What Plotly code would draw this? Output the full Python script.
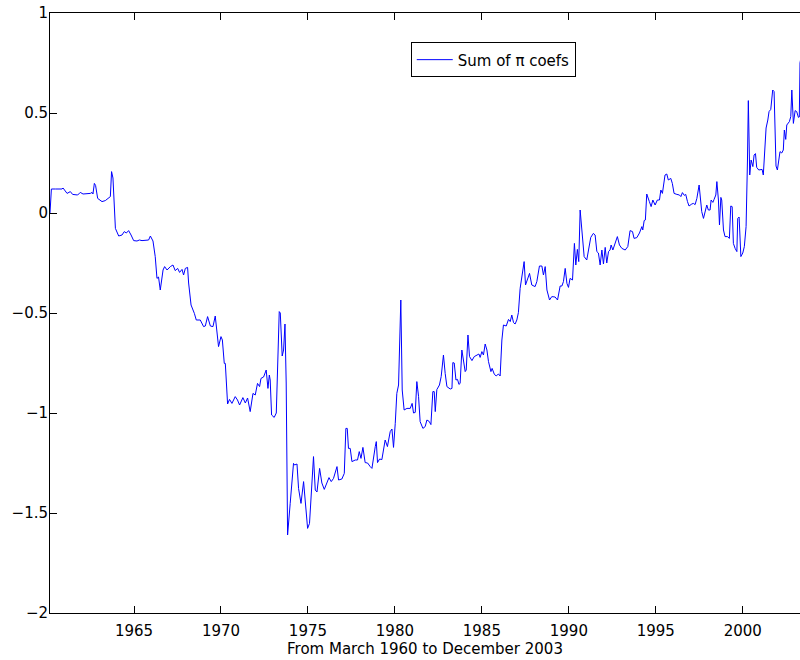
import plotly.graph_objects as go

# Time (decimal years) and sum of pi coefficients
years = [
    1960.17, 1960.25, 1960.48, 1960.86, 1960.92, 1961.15, 1961.34, 1961.47, 1961.76, 1961.91,
    1962.07, 1962.30, 1962.49, 1962.59, 1962.64, 1962.72, 1962.79, 1962.91, 1963.16, 1963.35,
    1963.64, 1963.71, 1963.79, 1963.93, 1964.12, 1964.31, 1964.44, 1964.56, 1964.69, 1964.83,
    1964.98, 1965.17, 1965.31, 1965.46, 1965.65, 1965.84, 1965.94, 1966.09, 1966.22, 1966.32,
    1966.41, 1966.51, 1966.67, 1966.76, 1966.90, 1967.09, 1967.24, 1967.37, 1967.51, 1967.62,
    1967.76, 1967.85, 1967.95, 1968.08, 1968.14, 1968.28, 1968.47, 1968.58, 1968.81, 1969.00,
    1969.10, 1969.23, 1969.39, 1969.54, 1969.67, 1969.86, 1970.00, 1970.08, 1970.19, 1970.25,
    1970.38, 1970.49, 1970.63, 1970.82, 1970.95, 1971.07, 1971.26, 1971.40, 1971.53, 1971.68,
    1971.84, 1971.97, 1972.10, 1972.22, 1972.30, 1972.45, 1972.60, 1972.70, 1972.78, 1972.83,
    1972.91, 1973.06, 1973.18, 1973.35, 1973.41, 1973.52, 1973.60, 1973.68, 1973.75, 1973.83,
    1973.98, 1974.17, 1974.23, 1974.37, 1974.46, 1974.60, 1974.75, 1974.84, 1974.98, 1975.09,
    1975.23, 1975.32, 1975.42, 1975.52, 1975.67, 1975.80, 1975.94, 1976.09, 1976.21, 1976.34,
    1976.47, 1976.67, 1976.76, 1976.95, 1977.09, 1977.18, 1977.26, 1977.33, 1977.43, 1977.53,
    1977.72, 1977.85, 1977.95, 1978.05, 1978.16, 1978.29, 1978.43, 1978.58, 1978.68, 1978.87,
    1978.93, 1979.00, 1979.12, 1979.25, 1979.44, 1979.57, 1979.73, 1979.83, 1979.92, 1980.02,
    1980.11, 1980.21, 1980.34, 1980.42, 1980.53, 1980.69, 1980.88, 1980.99, 1981.07, 1981.17,
    1981.26, 1981.36, 1981.45, 1981.61, 1981.74, 1981.84, 1981.97, 1982.07, 1982.18, 1982.26,
    1982.32, 1982.41, 1982.56, 1982.66, 1982.79, 1982.89, 1982.99, 1983.18, 1983.28, 1983.33,
    1983.41, 1983.51, 1983.60, 1983.68, 1983.75, 1983.85, 1983.94, 1984.04, 1984.10, 1984.20,
    1984.29, 1984.43, 1984.56, 1984.71, 1984.83, 1984.90, 1985.00, 1985.09, 1985.19, 1985.29,
    1985.38, 1985.52, 1985.59, 1985.71, 1985.82, 1985.95, 1986.05, 1986.15, 1986.24, 1986.40,
    1986.53, 1986.63, 1986.72, 1986.82, 1986.91, 1987.01, 1987.10, 1987.20, 1987.30, 1987.36,
    1987.43, 1987.51, 1987.59, 1987.74, 1987.87, 1988.06, 1988.16, 1988.31, 1988.45, 1988.54,
    1988.64, 1988.74, 1988.89, 1989.02, 1989.21, 1989.35, 1989.50, 1989.60, 1989.69, 1989.79,
    1989.89, 1989.98, 1990.07, 1990.21, 1990.32, 1990.40, 1990.49, 1990.57, 1990.65, 1990.75,
    1990.88, 1991.03, 1991.13, 1991.26, 1991.41, 1991.51, 1991.61, 1991.70, 1991.80, 1991.90,
    1991.99, 1992.09, 1992.18, 1992.28, 1992.37, 1992.43, 1992.53, 1992.66, 1992.79, 1992.91,
    1993.05, 1993.24, 1993.39, 1993.52, 1993.66, 1993.75, 1993.91, 1994.06, 1994.20, 1994.25,
    1994.33, 1994.40, 1994.48, 1994.63, 1994.73, 1994.83, 1994.96, 1995.09, 1995.21, 1995.29,
    1995.38, 1995.53, 1995.63, 1995.72, 1995.86, 1995.95, 1996.05, 1996.21, 1996.36, 1996.44,
    1996.53, 1996.64, 1996.72, 1996.82, 1996.91, 1997.07, 1997.16, 1997.26, 1997.36, 1997.49,
    1997.55, 1997.64, 1997.74, 1997.85, 1997.93, 1998.02, 1998.12, 1998.18, 1998.28, 1998.35,
    1998.45, 1998.51, 1998.60, 1998.66, 1998.74, 1998.79, 1998.89, 1998.98, 1999.12, 1999.23,
    1999.31, 1999.39, 1999.46, 1999.56, 1999.66, 1999.71, 1999.79, 1999.89, 2000.00, 2000.09,
    2000.19, 2000.27, 2000.32, 2000.40, 2000.48, 2000.58, 2000.65, 2000.73, 2000.80, 2000.92,
    2001.03, 2001.11, 2001.18, 2001.28, 2001.34, 2001.44, 2001.51, 2001.61, 2001.72, 2001.80,
    2001.86, 2001.91, 2001.99, 2002.09, 2002.14, 2002.24, 2002.33, 2002.39, 2002.47, 2002.53,
    2002.62, 2002.68, 2002.76, 2002.82, 2002.91, 2003.01, 2003.10, 2003.20, 2003.25, 2003.29,
    2003.35,
]

pi_sum = [
    0.000, 0.120, 0.120, 0.120, 0.125, 0.098, 0.107, 0.093, 0.090, 0.103,
    0.095, 0.097, 0.098, 0.103, 0.095, 0.148, 0.138, 0.073, 0.057, 0.062,
    0.082, 0.207, 0.175, -0.077, -0.115, -0.110, -0.093, -0.100, -0.088, -0.110,
    -0.138, -0.140, -0.135, -0.138, -0.135, -0.135, -0.115, -0.140, -0.218, -0.327,
    -0.320, -0.385, -0.285, -0.268, -0.285, -0.268, -0.260, -0.288, -0.277, -0.297,
    -0.282, -0.310, -0.277, -0.272, -0.350, -0.460, -0.502, -0.535, -0.535, -0.568,
    -0.565, -0.518, -0.565, -0.568, -0.515, -0.668, -0.618, -0.635, -0.752, -0.752,
    -0.955, -0.932, -0.952, -0.918, -0.935, -0.960, -0.923, -0.950, -0.925, -0.993,
    -0.902, -0.910, -0.852, -0.868, -0.827, -0.820, -0.785, -0.877, -0.810, -0.835,
    -1.010, -1.022, -1.000, -0.493, -0.500, -0.715, -0.685, -0.555, -0.850, -1.610,
    -1.452, -1.252, -1.260, -1.255, -1.377, -1.452, -1.343, -1.450, -1.577, -1.552,
    -1.318, -1.218, -1.385, -1.395, -1.277, -1.350, -1.382, -1.350, -1.323, -1.343,
    -1.327, -1.268, -1.335, -1.330, -1.302, -1.077, -1.077, -1.177, -1.177, -1.243,
    -1.235, -1.235, -1.193, -1.227, -1.172, -1.248, -1.250, -1.268, -1.277, -1.168,
    -1.143, -1.248, -1.230, -1.233, -1.135, -1.168, -1.093, -1.080, -1.172, -1.052,
    -0.902, -0.860, -0.435, -0.885, -0.985, -0.977, -0.977, -0.952, -1.000, -0.997,
    -0.843, -0.917, -1.043, -1.077, -1.068, -1.035, -1.042, -1.058, -0.893, -0.893,
    -0.993, -0.883, -0.860, -0.818, -0.710, -0.802, -0.868, -0.880, -0.877, -0.748,
    -0.750, -0.835, -0.832, -0.857, -0.852, -0.685, -0.735, -0.793, -0.785, -0.610,
    -0.718, -0.738, -0.718, -0.713, -0.705, -0.722, -0.693, -0.710, -0.655, -0.685,
    -0.743, -0.793, -0.777, -0.805, -0.815, -0.805, -0.815, -0.635, -0.560, -0.565,
    -0.532, -0.543, -0.510, -0.548, -0.555, -0.535, -0.498, -0.377, -0.310, -0.293,
    -0.243, -0.360, -0.343, -0.302, -0.360, -0.368, -0.343, -0.265, -0.265, -0.310,
    -0.268, -0.385, -0.435, -0.418, -0.420, -0.435, -0.365, -0.365, -0.343, -0.277,
    -0.352, -0.372, -0.327, -0.335, -0.152, -0.260, -0.182, -0.243, 0.015, -0.102,
    -0.218, -0.235, -0.185, -0.122, -0.102, -0.110, -0.193, -0.200, -0.260, -0.185,
    -0.255, -0.172, -0.250, -0.193, -0.185, -0.160, -0.185, -0.148, -0.118, -0.160,
    -0.177, -0.185, -0.168, -0.088, -0.093, -0.127, -0.123, -0.100, -0.068, -0.085,
    -0.038, -0.035, 0.095, 0.057, 0.032, 0.065, 0.040, 0.065, 0.065, 0.115,
    0.098, 0.190, 0.195, 0.165, 0.173, 0.148, 0.098, 0.093, 0.090, 0.082,
    0.102, 0.088, 0.093, 0.057, 0.035, 0.045, 0.048, 0.042, 0.073, 0.140,
    0.080, 0.007, -0.027, 0.023, 0.040, 0.015, 0.015, 0.065, 0.053, 0.068,
    0.090, 0.157, 0.065, -0.060, 0.078, 0.065, -0.085, -0.118, -0.118, -0.127,
    0.035, 0.032, -0.152, -0.177, -0.193, -0.027, -0.020, -0.218, -0.200, -0.168,
    -0.068, 0.265, 0.562, 0.190, 0.265, 0.232, 0.290, 0.297, 0.228, 0.215,
    0.215, 0.218, 0.190, 0.365, 0.425, 0.465, 0.507, 0.518, 0.615, 0.607,
    0.432, 0.235, 0.215, 0.290, 0.307, 0.300, 0.315, 0.415, 0.368, 0.440,
    0.448, 0.457, 0.482, 0.615, 0.448, 0.512, 0.507, 0.478, 0.480, 0.750,
    0.780,
]

x_ticks = [1965, 1970, 1975, 1980, 1985, 1990, 1995, 2000]
y_ticks = [-2, -1.5, -1, -0.5, 0, 0.5, 1]

FONT = "DejaVu Sans, Liberation Sans, Arial, sans-serif"

fig = go.Figure()
fig.add_trace(go.Scatter(
    x=years, y=pi_sum, mode="lines",
    line=dict(color="rgb(0,0,255)", width=1),
    name="Sum of π coefs",
))

fig.update_layout(
    width=800, height=660,
    margin=dict(l=50, r=0, t=13, b=47),
    paper_bgcolor="white", plot_bgcolor="white",
    font=dict(family=FONT, size=15, color="black"),
    showlegend=True,
    legend=dict(
        x=0.481, y=0.951, xanchor="left", yanchor="top",
        bgcolor="white", bordercolor="black", borderwidth=1,
        font=dict(family=FONT, size=15, color="black"),
        itemwidth=36,
    ),
    xaxis=dict(
        range=[1960.17, 2003.29],
        tickvals=x_ticks, ticktext=[str(v) for v in x_ticks],
        ticks="inside", ticklen=7, tickcolor="black", tickwidth=1,
        ticklabelstandoff=4,
        tickfont=dict(family=FONT, size=15, color="black"),
        showline=True, linecolor="black", linewidth=1, mirror="ticks",
        showgrid=False, zeroline=False,
        title=dict(text="From March 1960 to December 2003",
                   font=dict(family=FONT, size=15, color="black"), standoff=0),
    ),
    yaxis=dict(
        range=[-2, 1],
        tickvals=y_ticks,
        ticks="inside", ticklen=7, tickcolor="black", tickwidth=1,
        ticklabelstandoff=-2,
        tickfont=dict(family=FONT, size=15, color="black"),
        showline=True, linecolor="black", linewidth=1, mirror=False,
        showgrid=False, zeroline=False,
    ),
)

fig.write_html(
    "out.html",
    config={"displayModeBar": False},
    post_script="document.body.style.margin='0';",
)
